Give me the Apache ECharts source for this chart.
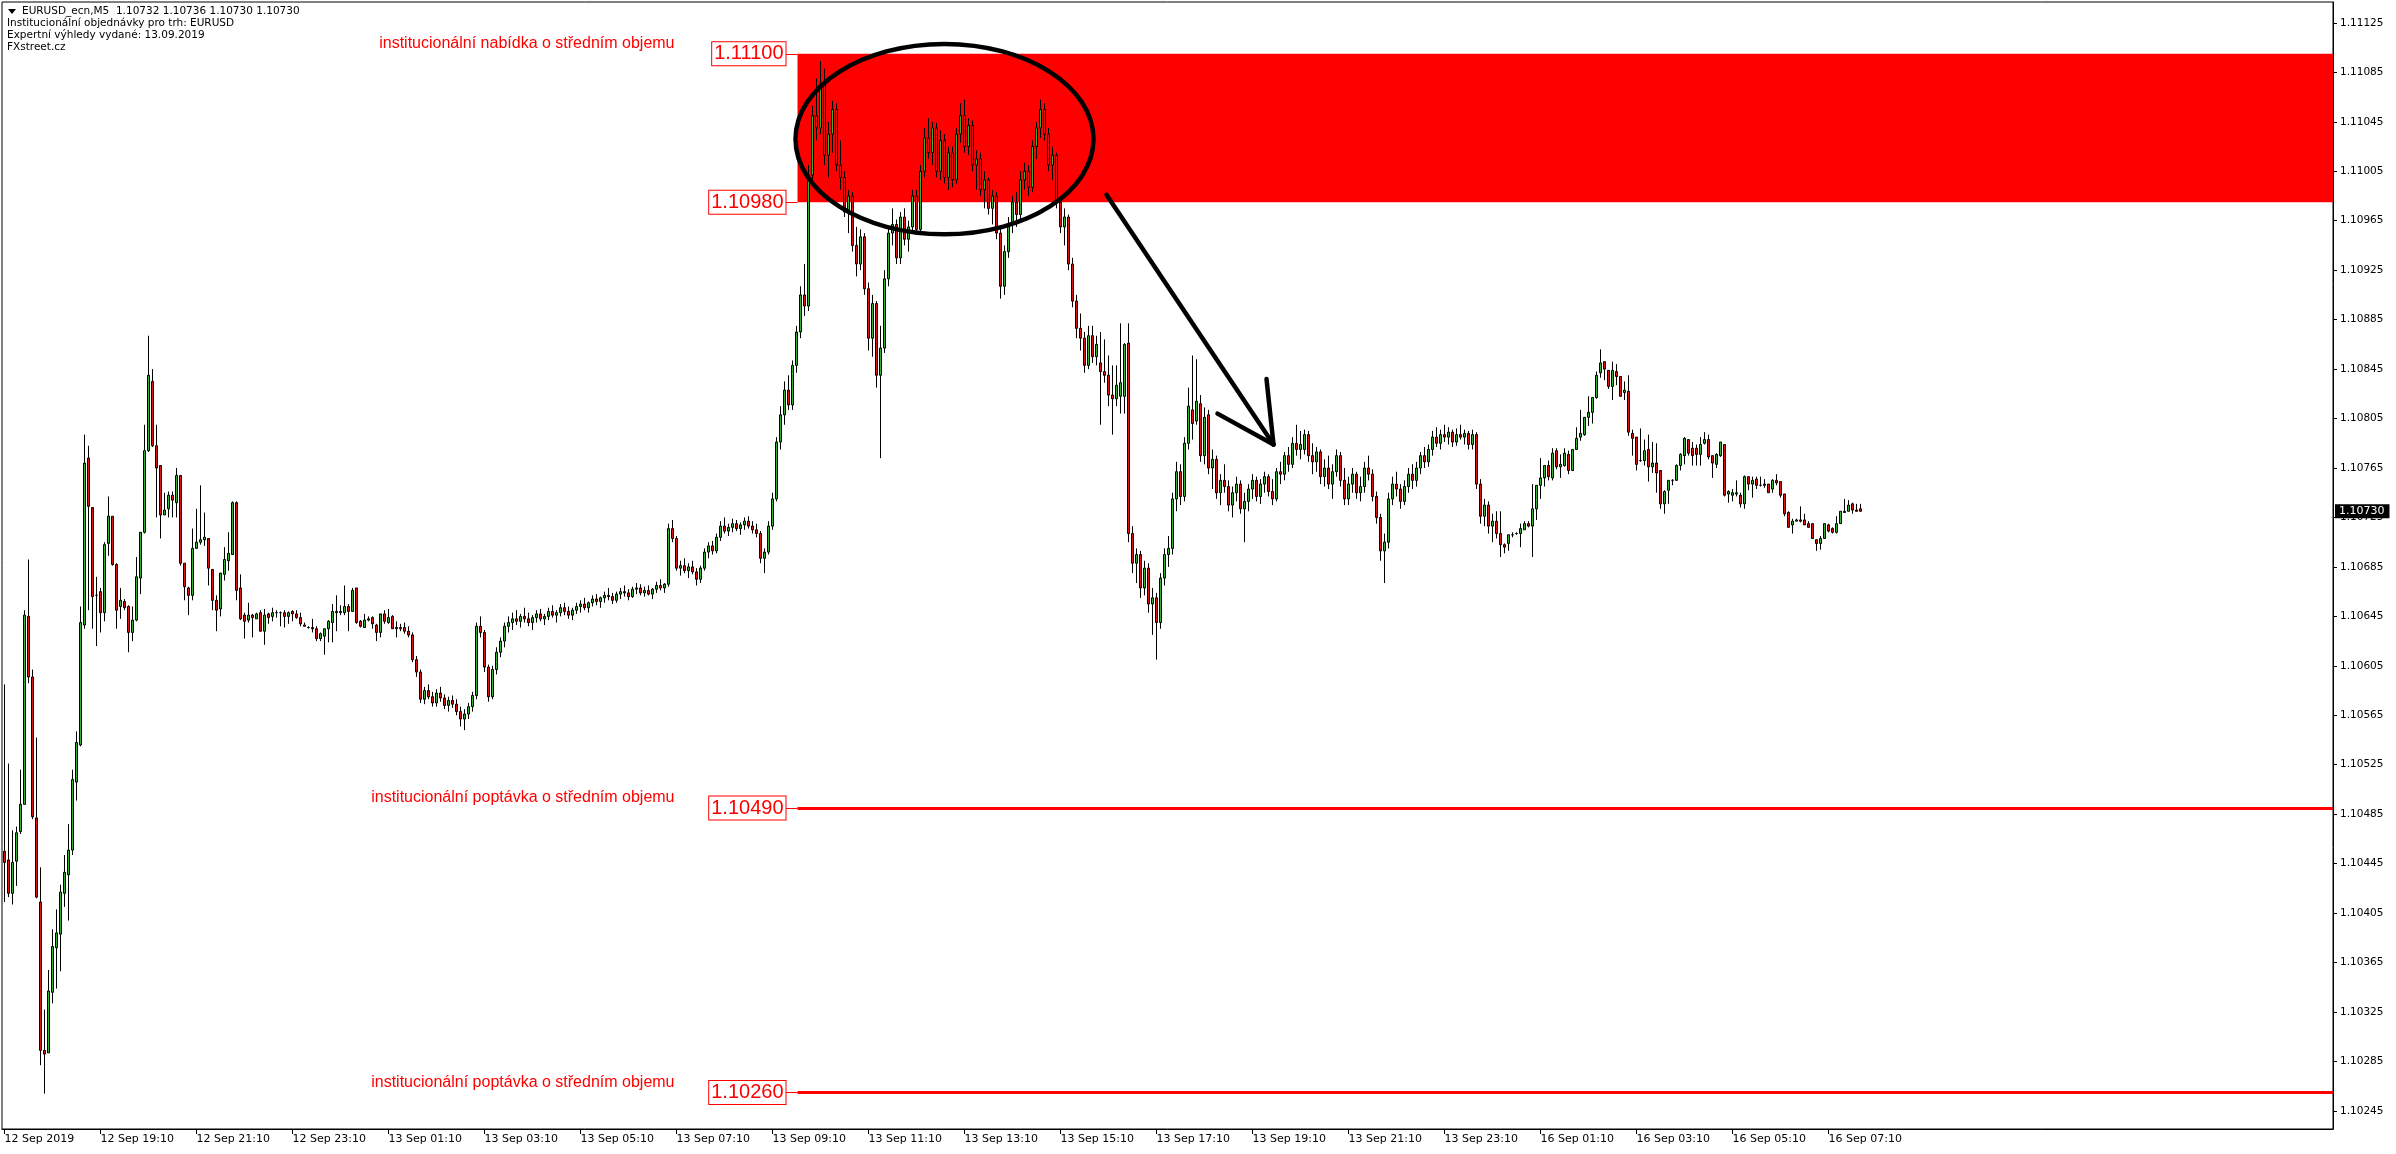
<!DOCTYPE html>
<html><head><meta charset="utf-8">
<script src="https://cdn.jsdelivr.net/npm/echarts@6/dist/echarts.min.js"></script>
<style>html,body{margin:0;padding:0;background:#fff}#c{width:2396px;height:1154px}</style>
</head><body><div id="c"></div>
<script>
// Candles: [open, high, low, close] in points above 1.10000 (1 point = 0.00001)
const candlesA = [ // bars 0-49
[455,590,414,446],[448,526,418,421],[421,472,412,446],[447,475,427,470],[471,521,469,493],
[493,650,493,646],[645,691,591,596],[596,602,481,483],[482,547,417,418],[414,442,282,294],
[294,327,259,291],[292,359,292,342],[341,392,332,378],[377,408,344,389],[388,428,358,422],
[421,452,410,438],[436,477,399,456],[456,521,452,513],[511,552,496,543],[541,653,540,640],
[638,792,635,769],[773,783,650,734],[733,733,635,661],[662,677,621,662],[665,668,632,648],
[648,705,641,703],[704,742,694,726],[726,726,686,687],[687,688,635,650],[653,668,643,658],
[657,659,650,652],[653,654,616,632],[632,653,625,642],[642,693,641,677],[676,713,663,713],
[713,800,712,779],[779,872,778,840],[835,845,782,783],[783,800,725,765],[767,767,708,727],
[727,745,727,731],[732,746,725,743],[743,746,725,739],[737,765,725,759],[759,759,686,688],
[688,688,658,669],[668,669,646,662],[662,716,658,700],[700,732,700,705],[705,751,703,707]];
const candlesB = [ // bars 50-99
[707,729,702,709],[708,708,670,684],[683,683,650,658],[658,662,633,650],[651,680,645,680],
[679,701,674,691],[690,713,682,696],[695,738,695,737],[737,738,658,666],[668,679,642,643],
[646,648,627,641],[642,656,640,646],[646,647,628,644],[643,648,643,647],[648,650,633,633],
[633,651,622,646],[647,648,639,644],[645,652,641,648],[648,650,644,648],[648,649,637,648],
[648,650,636,645],[645,649,639,648],[649,650,641,647],[647,650,643,644],[644,648,637,639],
[638,640,637,637],[636,637,635,636],[636,643,632,635],[635,637,625,627],[627,632,625,631],
[629,635,614,635],[635,642,624,641],[640,655,624,649],[648,662,633,649],[648,654,646,649],
[648,670,646,653],[653,655,633,649],[649,668,649,666],[668,668,639,640],[641,642,636,637],
[636,647,636,642],[642,645,641,643],[644,645,635,639],[638,639,625,632],[632,647,628,647],
[647,650,639,641],[640,651,639,644],[645,646,635,635],[636,641,628,635],[635,639,633,636]];
const candlesC = [ // bars 100-189
[636,640,631,633],[633,637,628,630],[630,632,608,610],[610,613,596,600],[600,602,575,578],
[578,588,574,585],[585,590,578,580],[580,584,572,575],[575,586,572,583],[583,588,576,579],
[579,582,570,573],[573,580,568,577],[577,581,571,574],[574,578,565,568],[568,572,556,562],
[562,570,553,566],[566,575,562,572],[572,584,568,581],[581,640,578,637],[637,645,628,632],
[632,634,600,604],[604,606,576,580],[580,605,578,602],[602,620,598,616],[616,628,612,625],
[625,640,620,637],[637,645,632,640],[640,648,634,643],[643,650,638,641],[641,647,636,645],
[645,652,640,643],[643,648,637,640],[640,646,634,644],[644,650,640,647],[647,651,641,643],
[643,647,638,645],[645,652,642,649],[649,654,644,646],[646,650,640,648],[648,655,645,652],
[652,656,646,649],[649,653,643,646],[646,652,642,650],[650,656,647,653],[653,658,648,655],
[655,660,650,652],[652,657,648,656],[656,662,653,659],[659,663,654,657],[657,661,652,660],
[660,665,656,662],[662,668,658,661],[661,664,655,658],[658,665,656,663],[663,668,659,665],
[665,670,661,664],[664,667,658,661],[661,669,660,667],[667,672,663,668],[668,671,662,664],
[664,669,661,666],[666,670,662,663],[663,668,659,667],[667,673,664,670],[670,675,666,668],
[668,672,664,671],[671,720,669,716],[716,723,705,708],[708,710,682,684],[684,690,678,686],
[686,692,680,682],[682,688,676,685],[685,690,679,681],[681,684,670,675],[675,686,672,684],
[684,700,682,697],[697,705,692,702],[702,706,695,698],[698,712,696,709],[709,722,706,718],
[718,725,712,714],[714,720,710,717],[717,724,713,720],[720,723,714,716],[716,721,711,719],
[719,725,715,722],[722,726,716,718],[718,722,712,715],[715,720,709,712],[712,714,688,692]];
const candlesD = [ // bars 190-281
[692,700,680,697],[697,722,695,718],[718,745,715,740],[740,790,738,786],[786,815,780,808],
[808,835,800,828],[828,840,812,816],[816,852,812,848],[848,880,842,875],[875,912,870,905],
[905,930,888,896],[896,1010,892,1002],[1002,1058,998,1050],[1050,1080,1030,1040],[1040,1094,1035,1075],
[1075,1088,1010,1018],[1018,1045,1000,1035],[1035,1062,1020,1055],[1055,1060,1005,1010],[1010,1030,990,1000],
[1000,1005,968,972],[972,990,955,985],[985,988,940,945],[945,960,920,930],[930,958,925,952],
[952,955,905,910],[910,915,860,870],[870,905,855,898],[898,900,830,840],[840,880,773,862],
[862,925,858,918],[918,960,912,955],[955,975,945,962],[962,966,930,935],[935,972,930,968],
[968,975,945,950],[950,965,940,960],[960,990,955,985],[985,990,955,958],[958,1010,955,1005],
[1005,1040,1000,1032],[1032,1048,1015,1020],[1020,1045,1010,1040],[1040,1044,1000,1005],[1005,1038,998,1030],
[1030,1035,995,1000],[1000,1025,990,1020],[1020,1025,992,998],[998,1040,995,1035],[1035,1060,1028,1050],
[1050,1063,1020,1025],[1025,1048,1018,1042],[1042,1046,1005,1010],[1010,1022,990,1015],[1015,1020,985,990],
[990,1005,975,998],[998,1000,970,975],[975,990,962,985],[985,988,950,955],[955,960,902,912],
[912,945,905,940],[940,968,935,962],[962,985,955,980],[980,988,960,970],[970,1005,965,998],
[998,1012,990,1005],[1005,1010,985,992],[992,1030,988,1025],[1025,1045,1015,1040],[1040,1063,1032,1055],
[1055,1060,1030,1035],[1035,1040,1005,1010],[1010,1025,998,1018],[1018,1020,975,980],[980,985,955,960],
[960,975,945,968],[968,970,925,930],[930,935,895,900],[900,905,870,878],[878,890,860,870],
[870,875,842,848],[848,880,845,872],[872,880,850,855],[855,872,848,865],[850,875,800,843],
[843,869,834,840],[840,856,815,824],[824,848,792,821],[821,848,815,832],[823,882,809,834],
[823,866,809,865],[866,882,705,712]];
const candlesE = [ // bars 282-373
[712,718,680,688],[688,700,672,695],[695,698,660,668],[668,690,662,684],[684,688,648,655],
[655,668,630,660],[660,664,610,640],[640,680,635,676],[676,700,670,695],[695,710,685,700],
[700,745,695,740],[740,770,730,762],[762,768,735,742],[742,790,738,785],[785,830,780,815],
[812,856,788,801],[803,853,800,819],[817,824,770,775],[775,814,768,806],[808,812,760,765],
[765,780,748,772],[772,775,740,745],[745,760,735,755],[755,768,745,750],[750,755,730,735],
[735,750,725,745],[745,758,738,752],[752,755,728,732],[732,745,705,738],[738,752,730,748],
[748,760,740,755],[755,758,738,742],[742,756,736,752],[752,762,745,758],[758,760,742,746],
[746,756,735,740],[740,765,738,762],[762,770,752,760],[760,778,755,775],[775,782,762,768],
[768,790,765,785],[785,800,775,780],[780,795,772,784],[780,796,776,792],[792,795,770,775],
[775,785,760,770],[770,782,762,778],[778,780,752,758],[758,772,750,765],[765,775,748,752],
[752,768,740,762],[762,780,758,775],[775,778,750,755],[755,765,735,740],[740,758,735,752],
[752,765,745,760],[760,762,740,745],[745,758,738,750],[750,770,745,765],[765,775,755,760],
[760,764,738,742],[742,746,720,725],[725,728,690,698],[698,712,672,705],[705,745,700,740],
[740,758,735,752],[752,762,742,748],[748,752,732,738],[738,755,735,750],[750,765,745,760],
[760,768,748,755],[755,770,750,765],[765,778,760,775],[775,782,765,770],[770,784,766,780],
[780,795,775,790],[790,798,782,785],[785,796,780,792],[792,800,786,790],[790,798,784,794],
[794,796,782,786],[786,797,783,792],[792,800,788,790],[790,796,784,793],[793,795,780,784],
[784,796,780,792],[792,794,748,752],[752,756,720,726],[726,740,718,735],[735,738,712,718],
[718,728,705,722],[722,730,708,712]];
const candlesF = [ // bars 374-464
[712,730,693,703],[703,704,696,701],[704,711,698,711],[711,713,709,711],[712,713,711,712],
[712,720,701,716],[715,722,715,720],[720,722,717,718],[718,752,693,732],[732,751,723,751],
[751,773,740,757],[757,767,750,767],[767,771,755,758],[757,781,755,777],[779,781,764,766],
[766,776,757,768],[767,781,766,777],[776,779,760,763],[763,780,763,780],[780,798,780,789],
[790,812,787,793],[792,806,791,806],[806,823,799,810],[810,822,801,822],[822,843,821,840],
[842,861,838,850],[851,851,836,845],[844,844,829,831],[831,851,820,844],[843,849,832,839],
[839,839,823,823],[826,835,820,828],[827,840,791,794],[793,796,775,789],[790,790,763,768],
[771,797,770,771],[771,788,767,779],[780,792,754,766],[766,786,761,769],[769,785,745,761],
[763,763,732,736],[736,747,728,746],[747,755,736,755],[755,756,751,755],[755,768,755,767],
[767,777,763,776],[775,790,768,789],[788,788,775,777],[781,786,767,775],[781,784,767,776],
[776,790,767,784],[785,794,784,788],[788,792,772,774],[775,775,757,769],[768,777,765,776],
[775,786,774,786],[784,784,742,743],[744,747,737,746],[743,748,738,745],[744,755,742,745],
[743,745,733,736],[736,759,732,758],[758,758,747,752],[752,758,741,755],[756,758,748,751],
[751,758,750,751],[751,756,749,752],[752,752,745,745],[748,756,745,755],[755,760,751,753],
[754,754,741,743],[744,744,726,728],[729,730,717,717],[719,724,712,722],[722,724,722,723],
[723,734,721,722],[723,728,719,719],[720,722,717,717],[720,720,708,708],[707,707,698,704],
[704,710,699,708],[708,720,708,720],[719,720,713,714],[716,717,712,713],[713,726,712,720],
[720,730,720,730],[729,740,729,730],[730,739,730,735],[736,737,728,731],[731,736,730,730],
[732,736,730,730]];

const xTickBars = [0,24,48,72,96,120,144,168,192,216,240,264,288,312,336,360,384,408,432,456];
const xTickLabels = ['12 Sep 2019','12 Sep 19:10','12 Sep 21:10','12 Sep 23:10','13 Sep 01:10','13 Sep 03:10',
  '13 Sep 05:10','13 Sep 07:10','13 Sep 09:10','13 Sep 11:10','13 Sep 13:10','13 Sep 15:10','13 Sep 17:10',
  '13 Sep 19:10','13 Sep 21:10','13 Sep 23:10','16 Sep 01:10','16 Sep 03:10','16 Sep 05:10','16 Sep 07:10'];
const yTicks = [1.10245,1.10285,1.10325,1.10365,1.10405,1.10445,1.10485,1.10525,1.10565,1.10605,1.10645,
  1.10685,1.10725,1.10765,1.10805,1.10845,1.10885,1.10925,1.10965,1.11005,1.11045,1.11085,1.11125];
const supplyZone = [1.11100, 1.10980];
const demandLevels = [1.10490, 1.10260];
const lastPrice = 1.10730;
const headerLines = ['EURUSD_ecn,M5  1.10732 1.10736 1.10730 1.10730',
  'Institucionální objednávky pro trh: EURUSD', 'Expertní výhledy vydané: 13.09.2019', 'FXstreet.cz'];
const zoneTexts = ['institucionální nabídka o středním objemu',
  'institucionální poptávka o středním objemu', 'institucionální poptávka o středním objemu'];

// annotation anchors in data units (bar index, price)
const xMin = -0.625, xMax = 582.125, yMin = 1.102304, yMax = 1.111419;
const zoneStartBar = 198.25, priceBoxBar = 195.25, textRightBar = 167.5;
const ellipseAnn = [235, 1.11031, 37.25, 0.00077];
const arrowAnn = [[[275.5,1.10986],[317.25,1.10784]],[[303.25,1.10809],[317.25,1.10784]],[[315.5,1.10837],[317.25,1.10784]]];

const FONT = '"Liberation Sans", Arial, sans-serif';
const SMALL = '"DejaVu Sans", Tahoma, sans-serif';
const P = v => +(1.1 + v / 1e5).toFixed(5);
const ohlc = [];
[candlesA, candlesB, candlesC, candlesD, candlesE, candlesF].forEach(seg =>
  seg.forEach(c => ohlc.push([ohlc.length, P(c[0]), P(c[3]), P(c[2]), P(c[1])])));

const boxLabel = txt => ({show: true, position: 'start', distance: 0, formatter: txt, color: '#ff0000',
  fontSize: 20, fontFamily: FONT, lineHeight: 20, backgroundColor: '#fff', borderColor: '#ff0000',
  borderWidth: 1, padding: [2, 2, 1, 2]});
const allLevels = [supplyZone[0], supplyZone[1], demandLevels[0], demandLevels[1]];
const levelLines = [];
allLevels.forEach(lv => levelLines.push([
  {coord: [priceBoxBar, lv], label: boxLabel(lv.toFixed(5)), lineStyle: {width: 1}},
  {coord: [zoneStartBar, lv]}]));
demandLevels.forEach(lv => levelLines.push([
  {coord: [zoneStartBar, lv], label: {show: false}, lineStyle: {width: 3}},
  {coord: [xMax, lv]}]));
const textLevels = [supplyZone[0], demandLevels[0], demandLevels[1]];

const chart = echarts.init(document.getElementById('c'), null, {width: 2396, height: 1154});
chart.setOption({
  animation: false,
  backgroundColor: '#fff',
  grid: {left: 2, top: 2, right: 63, bottom: 25, show: true, borderColor: '#000', borderWidth: 1,
    containLabel: false, outerBoundsMode: 'none'},
  xAxis: {type: 'value', min: xMin, max: xMax, position: 'bottom',
    axisLine: {show: true, onZero: false, lineStyle: {color: '#000', width: 1}},
    axisTick: {show: true, length: 5, lineStyle: {color: '#000'}, customValues: xTickBars},
    axisLabel: {show: true, customValues: xTickBars, align: 'left', margin: 5, color: '#000', fontSize: 11,
      fontFamily: SMALL, formatter: v => xTickLabels[xTickBars.indexOf(Math.round(v))]},
    splitLine: {show: false}},
  yAxis: {type: 'value', min: yMin, max: yMax, position: 'right',
    axisLine: {show: true, onZero: false, lineStyle: {color: '#000', width: 1}},
    axisTick: {show: true, length: 4, lineStyle: {color: '#000'}, customValues: yTicks},
    axisLabel: {show: true, customValues: yTicks, margin: 7, color: '#000', fontSize: 10.5, fontFamily: SMALL,
      formatter: v => v.toFixed(5)},
    splitLine: {show: false}},
  graphic: [
    {type: 'polygon', shape: {points: [[8, 9], [16, 9], [12, 14]]}, style: {fill: '#000'}},
    {type: 'text', left: 22, top: 6, style: {text: headerLines[0], font: '10.5px ' + SMALL, fill: '#000'}},
    {type: 'text', left: 7, top: 18, style: {text: headerLines[1], font: '10.5px ' + SMALL, fill: '#000'}},
    {type: 'text', left: 7, top: 30, style: {text: headerLines[2], font: '10.5px ' + SMALL, fill: '#000'}},
    {type: 'text', left: 7, top: 42, style: {text: headerLines[3], font: '10.5px ' + SMALL, fill: '#000'}}
  ],
  series: [
    {type: 'line', name: 'zones', z: 1, data: [], silent: true, clip: false,
      markArea: {silent: true, itemStyle: {color: '#ff0000', opacity: 1}, label: {show: false},
        data: [[{xAxis: zoneStartBar, yAxis: supplyZone[0]}, {xAxis: xMax, yAxis: supplyZone[1]}]]},
      markLine: {silent: true, symbol: ['none', 'none'], lineStyle: {color: '#ff0000', type: 'solid'},
        label: {show: false}, data: levelLines},
      markPoint: {silent: true, symbol: 'circle', symbolSize: 0,
        data: textLevels.map((lv, i) => ({coord: [textRightBar, lv], value: 0,
          label: {show: true, position: 'left', distance: 0, offset: [0, -10], formatter: zoneTexts[i],
            color: '#ff0000', fontSize: 16, fontFamily: FONT}}))}},
    {type: 'candlestick', name: 'EURUSD', z: 3, data: ohlc, encode: {x: 0, y: [1, 2, 3, 4]},
      barWidth: 2, silent: true,
      itemStyle: {color: '#32b432', color0: '#e01010', borderColor: '#000', borderColor0: '#000', borderWidth: 1}},
    {type: 'custom', name: 'annotations', z: 6, silent: true, clip: false, data: [ellipseAnn],
      encode: {x: 0, y: 1},
      renderItem: (params, api) => {
        const c = api.coord([api.value(0), api.value(1)]);
        const e = api.coord([api.value(0) + api.value(2), api.value(1) + api.value(3)]);
        return {type: 'ellipse', shape: {cx: c[0], cy: c[1], rx: Math.abs(e[0] - c[0]), ry: Math.abs(e[1] - c[1])},
          style: {fill: 'none', stroke: '#000', lineWidth: 4.5}};
      },
      markLine: {silent: true, symbol: ['none', 'none'], label: {show: false},
        lineStyle: {color: '#000', width: 4.5, type: 'solid', cap: 'round'},
        data: arrowAnn.map(s => [{coord: s[0]}, {coord: s[1]}])},
      markPoint: {silent: true, symbol: 'rect', symbolSize: 0,
        data: [{coord: [xMax, lastPrice], value: lastPrice,
          label: {show: true, position: 'right', distance: 2, formatter: lastPrice.toFixed(5), color: '#fff',
            backgroundColor: '#000', padding: [2, 5, 1, 4], fontSize: 11, fontFamily: SMALL}}]}}
  ]
});
</script></body></html>
